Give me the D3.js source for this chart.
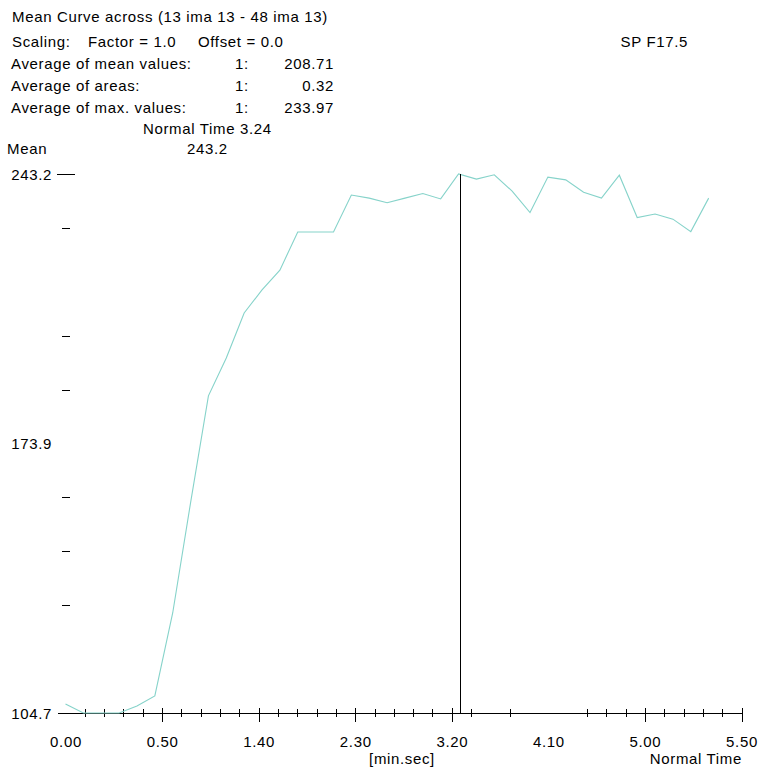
<!DOCTYPE html>
<html>
<head>
<meta charset="utf-8">
<script src="https://cdn.jsdelivr.net/npm/d3@7"></script>
<style>
html, body { margin: 0; padding: 0; background: #fff; }
svg { display: block; }
text { font-family: "Liberation Sans", Arial, sans-serif; font-size: 15px; letter-spacing: 0.65px; fill: #000; }
</style>
</head>
<body>
<svg id="chart" width="769" height="782"></svg>
<script>
// ---- data ----
const sampleTimes = [0, 9.25, 18.5, 27.75, 37, 46.25, 55.5, 64.75, 74, 83.25, 92.5, 101.75,
  111, 120.25, 129.5, 138.75, 148, 157.25, 166.5, 175.75, 185, 194.25, 203.5, 212.75,
  222, 231.25, 240.5, 249.75, 259, 268.25, 277.5, 286.75, 296, 305.25, 314.5, 323.75, 333];
const meanValues = [107.0, 104.7, 104.7, 104.7, 106.5, 109.1, 130.4, 158.7, 186.2, 195.9, 207.5, 213.4,
  218.5, 228.3, 228.3, 228.3, 237.8, 237.0, 235.8, 237.0, 238.2, 236.8, 243.2, 241.9,
  243.0, 238.8, 233.3, 242.4, 241.7, 238.5, 237.0, 242.9, 232.0, 232.9, 231.6, 228.4, 237.0];
const xLabelTimes = [0, 50, 100, 150, 200, 250, 300, 350];
const xMajorTicks = [50, 100, 150, 200, 300, 350];
const xMinorTicks = [10, 20, 30, 40, 60, 70, 80, 90, 110, 120, 130, 140, 160, 170, 180, 190,
  210, 230, 270, 280, 290, 310, 320, 330, 340];
const yMin = 104.7, yMax = 243.2;
const yLabelValues = [243.2, 173.9, 104.7];
const yMinorTicks = [229.35, 201.65, 187.8, 160.1, 146.25, 132.4];
const cursorTime = 204;
const titleText = "Mean Curve across (13 ima 13 - 48 ima 13)";
const statLabels = ["Average of mean values:", "Average of areas:", "Average of max. values:"];
const statValues = ["208.71", "0.32", "233.97"];

// ---- drawing ----
const svg = d3.select("#chart");
const x = d3.scaleLinear().domain([0, 350]).range([65.5, 741.5]);
const y = d3.scaleLinear().domain([yMin, yMax]).range([713, 174]);
const fmtTime = t => Math.floor(t / 60) + "." + String(t % 60).padStart(2, "0");

// header text
const hdr = svg.append("g");
hdr.append("text").attr("x", 12).attr("y", 22).text(titleText);
hdr.append("text").attr("x", 12).attr("y", 47).text("Scaling:");
hdr.append("text").attr("x", 88).attr("y", 47).text("Factor = 1.0");
hdr.append("text").attr("x", 198).attr("y", 47).text("Offset = 0.0");
hdr.append("text").attr("x", 688).attr("y", 47).attr("text-anchor", "end").text("SP F17.5");
statLabels.forEach((s, i) => {
  const by = 68.5 + i * 22.2;
  hdr.append("text").attr("x", 11).attr("y", by).text(s);
  hdr.append("text").attr("x", 235).attr("y", by).text("1:");
  hdr.append("text").attr("x", 334).attr("y", by).attr("text-anchor", "end").text(statValues[i]);
});
hdr.append("text").attr("x", 143).attr("y", 133.5).text("Normal Time " + fmtTime(cursorTime));
hdr.append("text").attr("x", 7).attr("y", 154).text("Mean");
hdr.append("text").attr("x", 187).attr("y", 154).text(d3.max(meanValues).toFixed(1));

// x axis baseline
svg.append("line").attr("x1", 58).attr("x2", x(350)).attr("y1", y(yMin)).attr("y2", y(yMin))
  .attr("stroke", "#000").attr("stroke-width", 1).attr("shape-rendering", "crispEdges");

// x minor ticks
const gMinor = svg.append("g").attr("transform", `translate(0,${y(yMin)})`)
  .call(d3.axisBottom(x).tickValues(xMinorTicks).tickSize(4).tickFormat(""));
gMinor.select(".domain").remove();
gMinor.selectAll(".tick line").attr("y1", -4).attr("y2", 4).attr("stroke", "#000").attr("shape-rendering", "crispEdges");

// x major ticks
const gMajor = svg.append("g").attr("transform", `translate(0,${y(yMin)})`)
  .call(d3.axisBottom(x).tickValues(xMajorTicks).tickSize(8).tickFormat(""));
gMajor.select(".domain").remove();
gMajor.selectAll(".tick line").attr("y1", -5).attr("y2", 9).attr("stroke", "#000").attr("shape-rendering", "crispEdges");

// x labels
const gLab = svg.append("g").attr("transform", `translate(0,${y(yMin)})`)
  .call(d3.axisBottom(x).tickValues(xLabelTimes).tickSize(0).tickPadding(0).tickFormat(fmtTime));
gLab.select(".domain").remove();
gLab.selectAll(".tick text").attr("y", 34).attr("dy", 0)
  .style("font-family", '"Liberation Sans", Arial, sans-serif').style("font-size", "15px").attr("fill", "#000");
svg.append("text").attr("x", 402).attr("y", 764).attr("text-anchor", "middle").text("[min.sec]");
svg.append("text").attr("x", 742).attr("y", 764).attr("text-anchor", "end").text("Normal Time");

// y axis (no spine)
const gY = svg.append("g").attr("transform", "translate(70,0)")
  .call(d3.axisLeft(y).tickValues(yMinorTicks).tickSize(8).tickFormat(""));
gY.select(".domain").remove();
gY.selectAll(".tick line").attr("stroke", "#000").attr("shape-rendering", "crispEdges");
const gYMaj = svg.append("g").attr("transform", "translate(75,0)")
  .call(d3.axisLeft(y).tickValues([yMax]).tickSize(18).tickFormat(""));
gYMaj.select(".domain").remove();
gYMaj.selectAll(".tick line").attr("stroke", "#000").attr("shape-rendering", "crispEdges");
const gYLab = svg.append("g").attr("transform", "translate(52,0)")
  .call(d3.axisLeft(y).tickValues(yLabelValues).tickSize(0).tickPadding(0).tickFormat(d => d.toFixed(1)));
gYLab.select(".domain").remove();
gYLab.selectAll(".tick text").attr("dy", "0.34em")
  .style("font-family", '"Liberation Sans", Arial, sans-serif').style("font-size", "15px").attr("fill", "#000");

// data curve
const data = sampleTimes.map((t, i) => ({ t, v: meanValues[i] }));
svg.append("path").datum(data)
  .attr("fill", "none").attr("stroke", "#86d3ca").attr("stroke-width", 1.1)
  .attr("d", d3.line().x(d => x(d.t)).y(d => y(d.v)));

// cursor line
svg.append("line").attr("x1", Math.round(x(cursorTime)) + 0.5).attr("x2", Math.round(x(cursorTime)) + 0.5)
  .attr("y1", y(yMax)).attr("y2", y(yMin)).attr("stroke", "#000").attr("stroke-width", 1);
</script>
</body>
</html>
